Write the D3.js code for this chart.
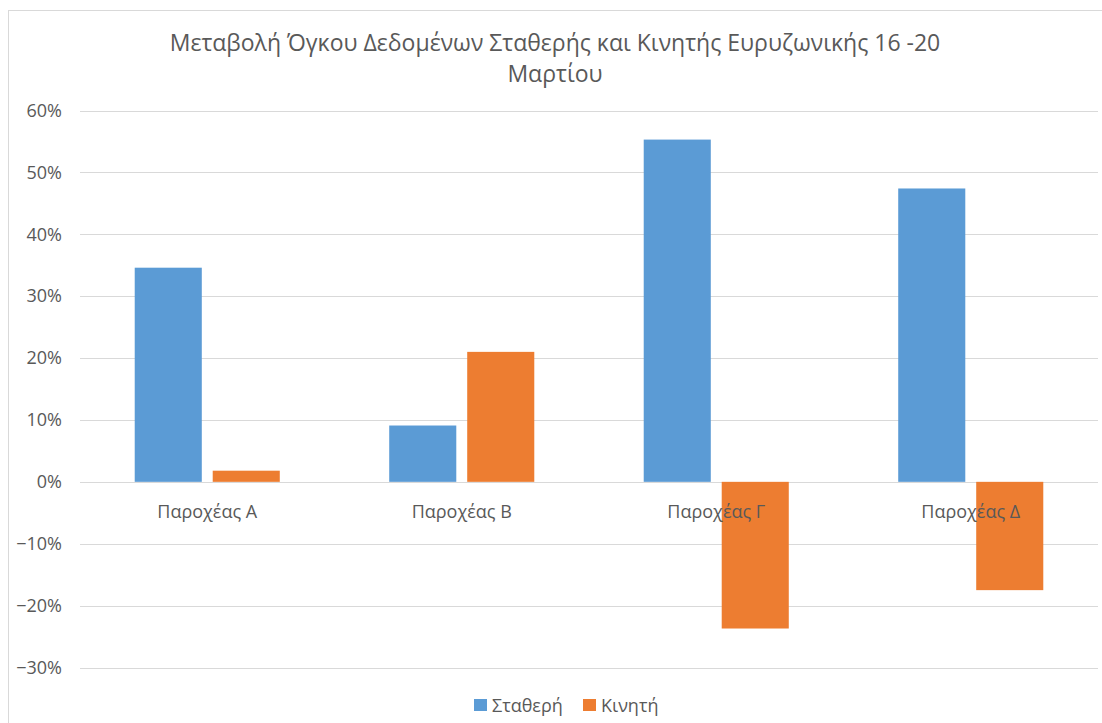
<!DOCTYPE html>
<html lang="el">
<head>
<meta charset="utf-8">
<title>Μεταβολή Όγκου Δεδομένων</title>
<script src="https://d3js.org/d3.v7.min.js"></script>
<style>
  body { margin: 0; background: #fff; }
  text { font-family: "Open Sans", "Noto Sans", sans-serif; fill: #595959; }
</style>
</head>
<body>
<script>
// data
var providers = ["Παροχέας Α", "Παροχέας Β", "Παροχέας Γ", "Παροχέας Δ"];
var seriesNames = ["Σταθερή", "Κινητή"];
var stathera = [0.346, 0.091, 0.553, 0.474];
var kiniti = [0.018, 0.210, -0.237, -0.175];
var yTicks = [-0.3, -0.2, -0.1, 0, 0.1, 0.2, 0.3, 0.4, 0.5, 0.6];
var titleLines = ["Μεταβολή Όγκου Δεδομένων Σταθερής και Κινητής Ευρυζωνικής 16 -20", "Μαρτίου"];

var colors = ["#5B9BD5", "#ED7D31"];
var width = 1102, height = 723;

var svg = d3.select("body").append("svg")
    .attr("width", width)
    .attr("height", height);

// chart border
svg.append("rect")
    .attr("x", 8.5).attr("y", 10.5)
    .attr("width", width).attr("height", height)
    .attr("fill", "none")
    .attr("stroke", "#D9D9D9");

var left = 80, right = 1098;

var y = d3.scaleLinear()
    .domain([-0.3, 0.6])
    .range([667.5, 110.5]);

var x = d3.scaleBand()
    .domain(providers)
    .range([left, right])
    .paddingInner(0.43)
    .paddingOuter(0.215);

var xs = d3.scaleBand()
    .domain(seriesNames)
    .range([0, x.bandwidth()])
    .paddingInner(0.14);

// gridlines
svg.append("g").selectAll("line")
    .data(yTicks)
    .enter().append("line")
    .attr("x1", left).attr("x2", right)
    .attr("y1", d => Math.round(y(d)) + 0.5)
    .attr("y2", d => Math.round(y(d)) + 0.5)
    .attr("stroke", "#D9D9D9")
    .attr("stroke-width", 1);

// y axis labels
var yAxis = d3.axisLeft(y).tickValues(yTicks).tickFormat(d3.format(".0%")).tickSize(0).tickPadding(0);
var gy = svg.append("g").attr("transform", "translate(62,0)").call(yAxis);
gy.select(".domain").remove();
gy.selectAll("text").style("font-size", "18px").attr("fill", "#595959")
    .style("font-family", '"Open Sans", "Noto Sans", sans-serif');

// bars
var rows = providers.map((p, i) => ({ p: p, vals: [stathera[i], kiniti[i]] }));
var groups = svg.append("g").selectAll("g")
    .data(rows)
    .enter().append("g")
    .attr("transform", d => "translate(" + x(d.p) + ",0)");

groups.selectAll("rect")
    .data(d => d.vals.map((v, j) => ({ s: seriesNames[j], v: v, j: j })))
    .enter().append("rect")
    .attr("x", d => xs(d.s))
    .attr("width", xs.bandwidth())
    .attr("y", d => y(Math.max(0, d.v)))
    .attr("height", d => Math.abs(y(d.v) - y(0)))
    .attr("fill", d => colors[d.j]);

// category labels
var xAxis = d3.axisBottom(x).tickSize(0).tickPadding(0);
var gx = svg.append("g").attr("transform", "translate(0," + (y(0) + 36) + ")").call(xAxis);
gx.select(".domain").remove();
gx.selectAll("text").style("font-size", "18px").attr("fill", "#595959").attr("dy", "0")
    .style("font-family", '"Open Sans", "Noto Sans", sans-serif');

// title
svg.append("g").selectAll("text")
    .data(titleLines)
    .enter().append("text")
    .attr("x", 555)
    .attr("y", (d, i) => 51 + i * 31)
    .attr("text-anchor", "middle")
    .style("font-size", "23px")
    .text(d => d);

// legend
var legend = svg.append("g").attr("transform", "translate(474,699)");
var lx = [0, 109];
seriesNames.forEach(function (s, i) {
    var g = legend.append("g").attr("transform", "translate(" + lx[i] + ",0)");
    g.append("rect").attr("width", 13).attr("height", 12).attr("fill", colors[i]);
    g.append("text").attr("x", 18).attr("y", 13).style("font-size", "18px").text(s);
});
</script>
</body>
</html>
